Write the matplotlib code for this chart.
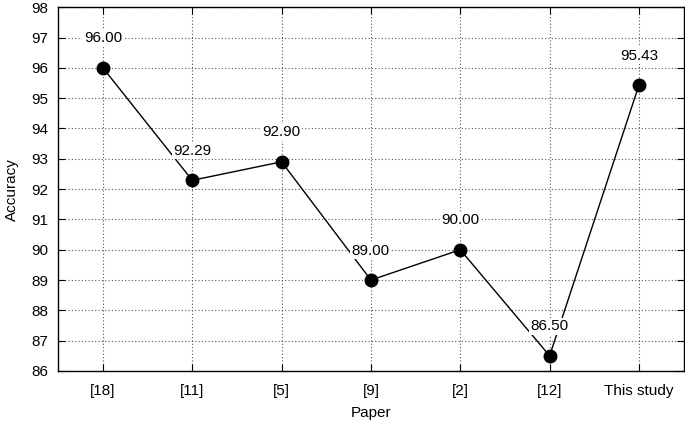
import numpy as np
import matplotlib
matplotlib.use("Agg")
import matplotlib.pyplot as plt

plt.rcParams['font.family'] = ['Liberation Sans', 'DejaVu Sans']

papers = ['[18]', '[11]', '[5]', '[9]', '[2]', '[12]', 'This study']
accuracy = [96.00, 92.29, 92.90, 89.00, 90.00, 86.50, 95.43]

fig = plt.figure(figsize=(6.85, 4.24), dpi=100)
ax = fig.add_axes([0.085, 0.125, 0.913, 0.858])

x = np.arange(len(papers))
ax.plot(x, accuracy, color='black', lw=1.0, marker='o', markersize=9, zorder=3)

# value labels above each point, white box over the grid/line
for xi, yi in zip(x, accuracy):
    ax.text(xi, yi + 0.97, f'{yi:.2f}', ha='center', va='center', fontsize=11,
            bbox=dict(facecolor='white', edgecolor='none', pad=1.0), zorder=4)

ax.set_xlim(-0.5, 6.5)
ax.set_ylim(86, 98)
ax.set_xticks(x)
ax.set_xticklabels(papers)
ax.set_yticks(np.arange(86, 99, 1))
ax.grid(True, linestyle=(0, (1, 2)), color='#555555', lw=0.8)
ax.tick_params(direction='in', top=True, right=True, labelsize=11, length=5, width=0.8)
ax.tick_params(axis='x', pad=9)
ax.tick_params(axis='y', pad=7)
for s in ax.spines.values():
    s.set_linewidth(1.0)

ax.set_xlabel('Paper', fontsize=11, labelpad=6)
ax.set_ylabel('Accuracy', fontsize=11, labelpad=9)

fig.savefig('out.png', dpi=100)
